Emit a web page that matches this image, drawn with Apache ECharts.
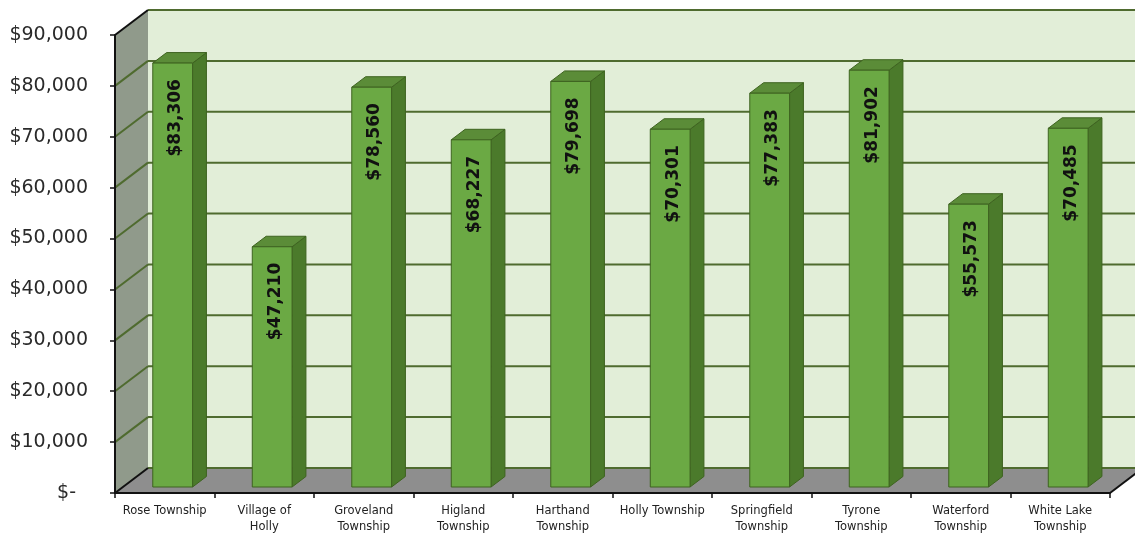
<!DOCTYPE html>
<html><head><meta charset="utf-8">
<script src="https://cdn.jsdelivr.net/npm/echarts@6/dist/echarts.min.js"></script>
<style>html,body{margin:0;padding:0;background:#fff}#c{width:1135px;height:533px}</style>
</head><body><div id="c"></div>
<script>
const categories = ['Rose Township','Village of\nHolly','Groveland\nTownship','Higland\nTownship','Harthand\nTownship','Holly Township','Springfield\nTownship','Tyrone\nTownship','Waterford\nTownship','White Lake\nTownship'];
const values = [83306,47210,78560,68227,79698,70301,77383,81902,55573,70485];
const yMin = 0, yMax = 90000, yStep = 10000;

// projection style constants
const DEPTH = [33, -25];
const BAR_FRONT = 0.24, BAR_DEPTH = 0.42, BAR_WIDTH = 0.40;
const GRID_COLOR = '#4f6b2f';

function fmtMoney(v){ return '$' + Math.round(v).toLocaleString('en-US'); }

const chart = echarts.init(document.getElementById('c'), null, {renderer:'canvas'});

function wallsRender(params, api){
  const cs = params.coordSys;
  const x0 = cs.x, x1 = cs.x + cs.width;
  const yb = api.coord([0, yMin])[1];
  const yt = api.coord([0, yMax])[1];
  const dx = DEPTH[0], dy = DEPTH[1];
  const ch = [];
  ch.push({type:'polygon', shape:{points:[[x0+dx,yt+dy],[x1+dx,yt+dy],[x1+dx,yb+dy],[x0+dx,yb+dy]]}, style:{fill:'#e2eed8'}});
  ch.push({type:'polygon', shape:{points:[[x0,yb],[x0+dx,yb+dy],[x0+dx,yt+dy],[x0,yt]]}, style:{fill:'#909a8b'}});
  ch.push({type:'polygon', shape:{points:[[x0,yb],[x1,yb],[x1+dx,yb+dy],[x0+dx,yb+dy]]}, style:{fill:'#8e8e8e'}});
  for (let v = yMin; v <= yMax; v += yStep){
    const y = api.coord([0, v])[1];
    ch.push({type:'line', shape:{x1:x0+dx, y1:y+dy, x2:x1+dx, y2:y+dy}, style:{stroke:GRID_COLOR, lineWidth:2}});
    const edge = (v === yMax || v === yMin);
    ch.push({type:'line', shape:{x1:x0, y1:y, x2:x0+dx, y2:y+dy}, style:{stroke: edge ? '#111' : GRID_COLOR, lineWidth:2}});
  }
  ch.push({type:'line', shape:{x1:x1, y1:yb, x2:x1+dx, y2:yb+dy}, style:{stroke:'#111', lineWidth:2}});
  return {type:'group', children:ch};
}

function barRender(params, api){
  const idx = api.value(0), v = api.value(1);
  const top = api.coord([idx, v]);
  const base = api.coord([idx, 0]);
  const band = api.size([1, 0])[0];
  const w = band * BAR_WIDTH;
  const fx = DEPTH[0]*BAR_FRONT, fy = DEPTH[1]*BAR_FRONT;
  const bx = DEPTH[0]*BAR_DEPTH, by = DEPTH[1]*BAR_DEPTH;
  const L = top[0] - w/2 + fx, R = top[0] + w/2 + fx;
  const T = top[1] + fy, B = base[1] + fy;
  const edge = '#3e6320';
  return {type:'group', children:[
    {type:'polygon', shape:{points:[[R,T],[R+bx,T+by],[R+bx,B+by],[R,B]]}, style:{fill:'#4b7a2b', stroke:edge, lineWidth:1}},
    {type:'polygon', shape:{points:[[L,T],[L+bx,T+by],[R+bx,T+by],[R,T]]}, style:{fill:'#5b8c38', stroke:edge, lineWidth:1}},
    {type:'rect', shape:{x:L, y:T, width:w, height:B-T}, style:{fill:'#6ba944', stroke:edge, lineWidth:1}},
    {type:'text', x:L + w/2 + 3, y:T + 16, rotation:Math.PI/2,
     style:{text:fmtMoney(v), align:'right', verticalAlign:'middle', fill:'#111', font:'bold 17px "DejaVu Sans"'}}
  ]};
}

chart.setOption({
  animation:false,
  backgroundColor:'#ffffff',
  grid:{left:115, right:25, top:35, bottom:40, containLabel:false, outerBoundsMode:'none'},
  xAxis:{type:'category', data:categories, z:5,
    axisLine:{show:true, lineStyle:{color:'#111', width:2}},
    axisTick:{show:true, length:5, lineStyle:{color:'#111', width:1.5}},
    axisLabel:{interval:0, fontSize:11.5, lineHeight:16, margin:10, color:'#222', fontFamily:'DejaVu Sans'},
    splitLine:{show:false}},
  yAxis:{type:'value', min:yMin, max:yMax, interval:yStep, z:5,
    axisLine:{show:true, lineStyle:{color:'#111', width:2}},
    axisTick:{show:true, length:5, lineStyle:{color:'#111', width:1.5}},
    axisLabel:{fontSize:19, margin:27, color:'#2a2a2a', fontFamily:'DejaVu Sans',
      formatter:function(v){ return v === 0 ? '{z|$-}' : fmtMoney(v); },
      rich:{z:{fontSize:19, fontFamily:'DejaVu Sans', color:'#2a2a2a', padding:[0,12,0,0]}}},
    splitLine:{show:false}},
  series:[
    {type:'custom', name:'walls', z:1, clip:false, silent:true, renderItem:wallsRender, data:[[0,0]], encode:{x:0,y:1}},
    {type:'custom', name:'income', z:4, clip:false, renderItem:barRender, data:values.map((v,i)=>[i,v]), encode:{x:0,y:1}}
  ]
});
</script>
</body></html>
